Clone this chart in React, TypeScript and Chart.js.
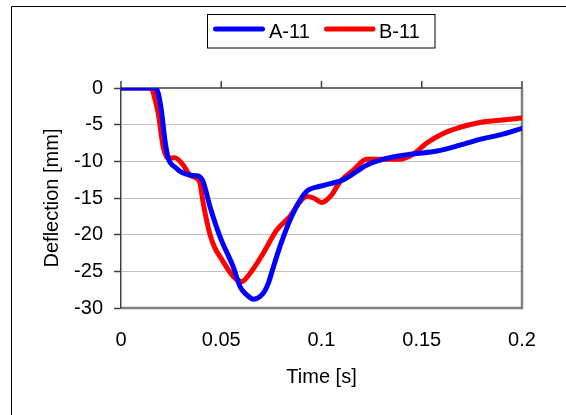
import React, { useEffect, useRef } from "react";
import { Chart, registerables } from "chart.js";

Chart.register(...registerables);

// ---- Data ----
const seriesNames = ["A-11", "B-11"];
const seriesColors = ["#0000ff", "#ff0000"];

const timeA = [0, 0.0172, 0.0182, 0.0192, 0.0203, 0.0219, 0.0236, 0.027, 0.031, 0.035, 0.0385, 0.041, 0.0444, 0.0494, 0.056, 0.0594, 0.0627, 0.066, 0.0709, 0.0735, 0.076, 0.0793, 0.081, 0.0843, 0.0893, 0.093, 0.0993, 0.105, 0.111, 0.1227, 0.134, 0.1456, 0.1576, 0.169, 0.179, 0.189, 0.2];
const deflA = [0, 0, -0.4, -1.5, -3.4, -7.1, -9.6, -10.8, -11.6, -11.9, -12.0, -12.8, -16.2, -20.3, -24.4, -27.1, -28.2, -28.8, -28.0, -26.6, -24.4, -21.6, -20.3, -18.0, -15.3, -14.0, -13.4, -13.0, -12.5, -10.5, -9.5, -9.0, -8.6, -7.8, -7.0, -6.4, -5.5];

const timeB = [0, 0.0148, 0.0158, 0.0168, 0.0186, 0.021, 0.0236, 0.0269, 0.031, 0.0344, 0.0377, 0.0394, 0.041, 0.0444, 0.0468, 0.0494, 0.056, 0.0602, 0.0643, 0.071, 0.0776, 0.0843, 0.089, 0.0926, 0.096, 0.1001, 0.105, 0.1092, 0.1159, 0.1225, 0.1292, 0.139, 0.1458, 0.1525, 0.1607, 0.1674, 0.179, 0.189, 0.2];
const deflB = [0, 0, -0.4, -1.4, -3.5, -8.0, -9.6, -9.5, -10.5, -11.9, -12.3, -13.0, -15.7, -20.0, -21.8, -23.0, -25.7, -26.4, -25.3, -22.5, -19.4, -17.5, -15.6, -14.8, -15.0, -15.6, -14.6, -12.8, -11.2, -9.7, -9.7, -9.7, -9.0, -7.5, -6.2, -5.5, -4.7, -4.4, -4.1];

const xMin = 0;
const xMax = 0.2;
const xStep = 0.05;
const yMin = -30;
const yMax = 0;
const yStep = 5;
const xTitle = "Time [s]";
const yTitle = "Deflection [mm]";

const FONT = "'Liberation Sans', Arial, sans-serif";

const toPoints = (xs: number[], ys: number[]) => xs.map((x, i) => ({ x, y: ys[i] }));

const decorPlugin = {
  id: "decor",
  beforeDraw(chart: any) {
    const ctx = chart.ctx;
    ctx.save();
    ctx.fillStyle = "#ffffff";
    ctx.fillRect(0, 0, chart.width, chart.height);
    ctx.strokeStyle = "#000000";
    ctx.lineWidth = 1;
    ctx.beginPath();
    ctx.moveTo(11.5, chart.height);
    ctx.lineTo(11.5, 6.5);
    ctx.lineTo(chart.width, 6.5);
    ctx.stroke();
    ctx.restore();
  },
  beforeDatasetsDraw(chart: any) {
    const ctx = chart.ctx;
    const { left, right, top, bottom } = chart.chartArea;
    const xs = chart.scales.x;
    const ys = chart.scales.y;
    ctx.save();
    // plot-area border (right & bottom)
    ctx.strokeStyle = "#808080";
    ctx.lineWidth = 2.5;
    ctx.beginPath();
    ctx.moveTo(left, bottom);
    ctx.lineTo(right, bottom);
    ctx.lineTo(right, top);
    ctx.stroke();
    // x axis line at y = 0 with upward tick marks
    const y0 = ys.getPixelForValue(0);
    ctx.strokeStyle = "#404040";
    ctx.lineWidth = 1.5;
    ctx.beginPath();
    ctx.moveTo(left, y0);
    ctx.lineTo(right, y0);
    xs.ticks.forEach((t: any) => {
      const px = xs.getPixelForValue(t.value);
      ctx.moveTo(px, y0);
      ctx.lineTo(px, y0 - 7);
    });
    ctx.stroke();
    ctx.restore();
  },
  afterDraw(chart: any) {
    const ctx = chart.ctx;
    ctx.save();
    // legend box
    ctx.strokeStyle = "#000000";
    ctx.lineWidth = 1;
    ctx.strokeRect(207.5, 14.5, 227.5, 33.5);
    ctx.font = `20px ${FONT}`;
    ctx.textBaseline = "alphabetic";
    ctx.textAlign = "left";
    const entries = [
      { x0: 215.5, x1: 262.5, tx: 269 },
      { x0: 326.5, x1: 373, tx: 379 },
    ];
    chart.data.datasets.forEach((ds: any, i: number) => {
      const e = entries[i];
      ctx.strokeStyle = ds.borderColor;
      ctx.lineWidth = 5;
      ctx.lineCap = "round";
      ctx.beginPath();
      ctx.moveTo(e.x0, 29);
      ctx.lineTo(e.x1, 29);
      ctx.stroke();
      ctx.fillStyle = "#000000";
      ctx.fillText(ds.label, e.tx, 38);
    });
    ctx.restore();
  },
};

export default function App() {
  const canvasRef = useRef<HTMLCanvasElement | null>(null);

  useEffect(() => {
    if (!canvasRef.current) return;
    Chart.defaults.font.family = FONT;
    const chart = new Chart(canvasRef.current, {
      type: "line",
      data: {
        datasets: [
          {
            label: seriesNames[0],
            data: toPoints(timeA, deflA),
            borderColor: seriesColors[0],
            backgroundColor: seriesColors[0],
            borderWidth: 5,
            pointRadius: 0,
            cubicInterpolationMode: "monotone",
            borderCapStyle: "round",
            borderJoinStyle: "round",
          },
          {
            label: seriesNames[1],
            data: toPoints(timeB, deflB),
            borderColor: seriesColors[1],
            backgroundColor: seriesColors[1],
            borderWidth: 5,
            pointRadius: 0,
            cubicInterpolationMode: "monotone",
            borderCapStyle: "round",
            borderJoinStyle: "round",
          },
        ],
      },
      options: {
        responsive: false,
        animation: false,
        devicePixelRatio: 1,
        layout: { padding: { top: 88, left: 0, right: 44, bottom: 0 } },
        plugins: {
          legend: { display: false },
          tooltip: { enabled: false },
        },
        scales: {
          x: {
            type: "linear",
            position: "bottom",
            min: xMin,
            max: xMax,
            ticks: {
              stepSize: xStep,
              padding: 20,
              color: "#000",
              font: { size: 20, family: FONT },
              maxRotation: 0,
              callback: (v: any) => String(+Number(v).toFixed(3)),
            },
            grid: { display: false, drawTicks: false },
            border: { display: false },
            title: {
              display: true,
              text: xTitle,
              color: "#000",
              font: { size: 20, family: FONT },
              padding: { top: 26, bottom: 26 },
            },
            afterFit: (s: any) => {
              s.height = 107;
            },
          },
          y: {
            type: "linear",
            min: yMin,
            max: yMax,
            ticks: {
              stepSize: yStep,
              padding: 11,
              color: "#000",
              font: { size: 20, family: FONT },
            },
            grid: {
              color: (c: any) =>
                c.tick && (c.tick.value === 0 || c.tick.value === -30) ? "rgba(0,0,0,0)" : "#c0c0c0",
              lineWidth: 1,
              tickColor: "#404040",
              tickLength: 7,
              tickWidth: 1.5,
            },
            border: { display: true, color: "#404040", width: 1.5 },
            title: {
              display: true,
              text: yTitle,
              color: "#000",
              font: { size: 20, family: FONT },
              padding: { top: 40, bottom: 40 },
            },
            afterFit: (s: any) => {
              s.width = 121;
            },
          },
        },
      },
      plugins: [decorPlugin],
    } as any);
    return () => chart.destroy();
  }, []);

  return (
    <div style={{ position: "absolute", left: 0, top: 0, width: 566, height: 415 }}>
      <canvas ref={canvasRef} width={566} height={415} style={{ display: "block" }} />
    </div>
  );
}
